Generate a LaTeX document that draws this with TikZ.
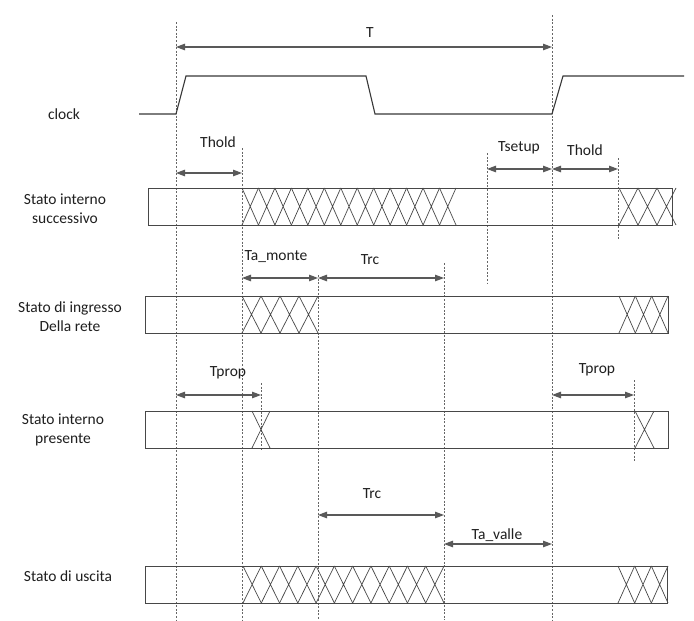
\documentclass[tikz,border=0pt]{standalone}
\usepackage{fontspec}
\setmainfont{Carlito}
\usetikzlibrary{arrows.meta}
\newcommand{\xhatch}[5]{%
  \pgfmathsetmacro{\hcw}{(#2-#1)/#3}%
  \foreach \hi in {1,...,#3}{%
    \draw[barline] ({#1+(\hi-1)*\hcw},#4) -- ({#1+\hi*\hcw},#5)
                   ({#1+(\hi-1)*\hcw},#5) -- ({#1+\hi*\hcw},#4);
  }%
}
\begin{document}
\begin{tikzpicture}[x=1pt,y=-1pt,
  wave/.style={draw=black!78, line width=1.1pt, line join=miter},
  barline/.style={draw=black!72, line width=0.7pt},
  guideline/.style={draw=black!60, line width=0.55pt, dash pattern=on 2pt off 1.6pt},
  dimarrow/.style={draw=black!65, line width=1.1pt, {Triangle[length=9pt,width=6.5pt]}-{Triangle[length=9pt,width=6.5pt]}},
  lbl/.style={font=\fontsize{15.5}{19}\selectfont, text=black!88, inner sep=0pt},
  side/.style={lbl, align=center}]
\useasboundingbox (0,0) rectangle (694,621);
\fill[white] (0,0) rectangle (694,621);

% ---- vertical guides ----
\draw[guideline] (176,22) -- (176,620);
\draw[guideline] (552,15) -- (552,620);
\draw[guideline] (242,148) -- (242,620);
\draw[guideline] (318,275) -- (318,620);
\draw[guideline] (444,263) -- (444,620);
\draw[guideline] (487,153) -- (487,283);
\draw[guideline] (618,158) -- (618,240);
\draw[guideline] (261,383) -- (261,450);
\draw[guideline] (634,380) -- (634,462);

% ---- clock ----
\draw[wave] (139,114) -- (176,114) -- (186,76) -- (366,76) -- (375,114) -- (552,114) -- (563,76) -- (684,76);

% ---- side labels ----
\node[lbl] (clk) at (64,114) {clock};
\node[side] (s1) at (65,208.5) {Stato interno\\successivo};
\node[side] (s2) at (70,316.5) {Stato di ingresso\\Della rete};
\node[side] (s3) at (63,429.5) {Stato interno\\presente};
\node[lbl] (s4) at (68,576) {Stato di uscita};

% ---- bar 1: stato interno successivo ----
\draw[barline] (148,188) rectangle (672,225);
\xhatch{242}{456}{13}{188}{225}
\xhatch{619}{676}{3}{188}{225}

% ---- bar 2: stato di ingresso ----
\draw[barline] (145,296) rectangle (668,333);
\xhatch{242}{318}{4}{296}{333}
\xhatch{619}{668}{3}{296}{333}

% ---- bar 3: stato interno presente ----
\draw[barline] (145,411) rectangle (668,448);
\xhatch{252}{270}{1}{411}{448}
\xhatch{635}{654}{1}{411}{448}

% ---- bar 4: stato di uscita ----
\draw[barline] (145,566) rectangle (667,603);
\xhatch{243}{444}{11}{566}{603}
\xhatch{618}{668}{3}{566}{603}

% ---- dimension arrows ----
\coordinate (T0) at (176,47);   \coordinate (T1) at (552,47);
\draw[dimarrow] (T0) -- (T1);
\node[lbl] (tT) at (370,33) {T};

\coordinate (H0) at (176,173);  \coordinate (H1) at (242,173);
\draw[dimarrow] (H0) -- (H1);
\node[lbl] (tH) at (218,142) {Thold};

\coordinate (S0) at (487,169);  \coordinate (S1) at (552,169);
\draw[dimarrow] (S0) -- (S1);
\node[lbl] (tS) at (519,148) {Tsetup};

\coordinate (H2) at (552,169);  \coordinate (H3) at (618,169);
\draw[dimarrow] (H2) -- (H3);
\node[lbl] (tH2) at (585,150) {Thold};

\coordinate (M0) at (242,278);  \coordinate (M1) at (318,278);
\draw[dimarrow] (M0) -- (M1);
\node[lbl] (tM) at (276,257) {Ta\_monte};

\coordinate (R0) at (318,278);  \coordinate (R1) at (444,278);
\draw[dimarrow] (R0) -- (R1);
\node[lbl] (tR) at (370,260) {Trc};

\coordinate (P0) at (176,395);  \coordinate (P1) at (261,395);
\draw[dimarrow] (P0) -- (P1);
\node[lbl] (tP) at (228,373) {Tprop};

\coordinate (P2) at (552,395);  \coordinate (P3) at (634,395);
\draw[dimarrow] (P2) -- (P3);
\node[lbl] (tP2) at (597,370) {Tprop};

\coordinate (R2) at (318,515);  \coordinate (R3) at (444,515);
\draw[dimarrow] (R2) -- (R3);
\node[lbl] (tR2) at (372,494) {Trc};

\coordinate (V0) at (444,544);  \coordinate (V1) at (552,544);
\draw[dimarrow] (V0) -- (V1);
\node[lbl] (tV) at (497,535) {Ta\_valle};
\end{tikzpicture}
\end{document}
